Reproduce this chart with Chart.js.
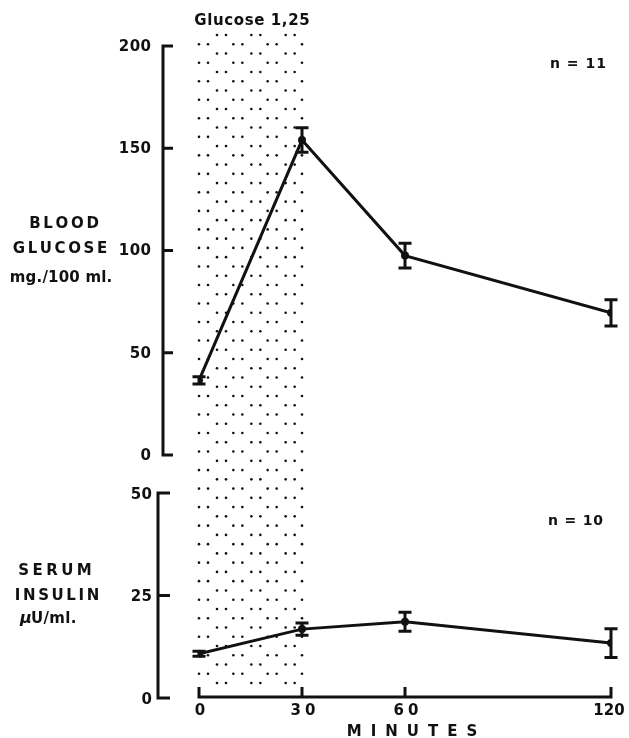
<!DOCTYPE html>
<html><head><meta charset="utf-8">
<script src="https://cdn.jsdelivr.net/npm/chart.js@4"></script>
<style>html,body{margin:0;padding:0;background:#fff;} #wrap{position:relative;width:629px;height:738px;} canvas{position:absolute;left:0;top:0;}</style>
</head><body><div id="wrap"><canvas id="c" width="629" height="738"></canvas></div>
<script>
const minutes = [0, 30, 60, 120];
const glucose = [36.5, 154, 97.5, 69.5];
const glucoseErr = [1.8, 6, 6, 6.4];
const insulin = [10.8, 16.8, 18.6, 13.4];
const insulinErr = [0.6, 1.5, 2.3, 3.5];
const glucoseTicks = [0, 50, 100, 150, 200];
const insulinTicks = [0, 25, 50];
const minuteTicks = [0, 30, 60, 120];
const shadeRange = [0, 30];

const FONT = '"DejaVu Sans", sans-serif';
const INK = '#111';

function spaced(ctx, text, x, y, sp, align) {
  const ws = [...text].map(ch => ctx.measureText(ch).width);
  const total = ws.reduce((a, b) => a + b, 0) + sp * (ws.length - 1);
  let cx = align === 'center' ? x - total / 2 : align === 'right' ? x - total : x;
  ctx.textAlign = 'left';
  [...text].forEach((ch, i) => { ctx.fillText(ch, cx, y); cx += ws[i] + sp; });
}

const decor = {
  id: 'decor',
  beforeDatasetsDraw(chart) {
    const ctx = chart.ctx, xs = chart.scales.x;
    const xa = xs.getPixelForValue(shadeRange[0]), xb = xs.getPixelForValue(shadeRange[1]);
    const period = (xb - xa) / 3;
    const top = 35, bottom = 683, rows = 70, step = (bottom - top) / rows;
    ctx.save();
    ctx.fillStyle = INK;
    for (let r = 0; r <= rows; r++) {
      const y = top + r * step;
      const xsList = [];
      if (r % 2 === 0) {
        for (let k = 0; k < 3; k++) { xsList.push(xa + 18 + k * period, xa + 27 + k * period); }
      } else {
        for (let k = 0; k < 3; k++) { xsList.push(xa + k * period, xa + 9 + k * period); }
        xsList.push(xb);
      }
      xsList.forEach(x => { ctx.beginPath(); ctx.arc(x, y, 1.3, 0, Math.PI * 2); ctx.fill(); });
    }
    ctx.restore();
  },
  afterDatasetsDraw(chart) {
    const ctx = chart.ctx, xs = chart.scales.x;
    ctx.save();
    ctx.strokeStyle = INK; ctx.lineWidth = 3; ctx.lineCap = 'butt';
    const sets = [[glucose, glucoseErr, chart.scales.yG], [insulin, insulinErr, chart.scales.yI]];
    sets.forEach(([vals, errs, ys]) => {
      vals.forEach((v, i) => {
        const x = xs.getPixelForValue(minutes[i]);
        const y1 = ys.getPixelForValue(v + errs[i]), y2 = ys.getPixelForValue(v - errs[i]);
        ctx.beginPath();
        ctx.moveTo(x, y1); ctx.lineTo(x, y2);
        ctx.moveTo(x - 6.5, y1); ctx.lineTo(x + 6.5, y1);
        ctx.moveTo(x - 6.5, y2); ctx.lineTo(x + 6.5, y2);
        ctx.stroke();
      });
    });
    ctx.restore();
  },
  afterDraw(chart) {
    const ctx = chart.ctx, xs = chart.scales.x, yG = chart.scales.yG, yI = chart.scales.yI;
    ctx.save();
    ctx.strokeStyle = INK; ctx.fillStyle = INK; ctx.lineWidth = 3; ctx.lineCap = 'butt';
    // glucose axis
    const gx = 163;
    ctx.beginPath();
    ctx.moveTo(gx, yG.getPixelForValue(200) - 1.5); ctx.lineTo(gx, yG.getPixelForValue(0) + 1.5);
    glucoseTicks.forEach(t => { const y = yG.getPixelForValue(t); ctx.moveTo(gx - 1.5, y); ctx.lineTo(gx + 10, y); });
    ctx.stroke();
    // insulin axis
    const ix = 158;
    ctx.beginPath();
    ctx.moveTo(ix, yI.getPixelForValue(50) - 1.5); ctx.lineTo(ix, yI.getPixelForValue(0) + 1.5);
    insulinTicks.forEach(t => { const y = yI.getPixelForValue(t); ctx.moveTo(ix - 1.5, y); ctx.lineTo(ix + 12, y); });
    ctx.stroke();
    // x axis
    const ay = 697;
    ctx.beginPath();
    ctx.moveTo(xs.getPixelForValue(0) - 1.5, ay); ctx.lineTo(xs.getPixelForValue(120) + 1.5, ay);
    minuteTicks.forEach(t => { const x = xs.getPixelForValue(t); ctx.moveTo(x, ay + 1.5); ctx.lineTo(x, ay - 10); });
    ctx.stroke();

    ctx.textBaseline = 'middle';
    ctx.font = 'bold 15px ' + FONT;
    glucoseTicks.forEach(t => spaced(ctx, String(t), 151, yG.getPixelForValue(t) + 1, 0.5, 'right'));
    insulinTicks.forEach(t => spaced(ctx, String(t), 152, yI.getPixelForValue(t) + 2, 0.5, 'right'));
    minuteTicks.forEach(t => {
      const s = String(t);
      spaced(ctx, s, xs.getPixelForValue(t) + (s.length > 2 ? -2 : 1), 711, s.length > 2 ? 0 : 4, 'center');
    });
    spaced(ctx, 'MINUTES', 412, 732, 9, 'center');

    spaced(ctx, 'BLOOD', 64, 224, 2.7, 'center');
    spaced(ctx, 'GLUCOSE', 60, 249, 2.6, 'center');
    spaced(ctx, 'mg./100 ml.', 61, 278, 0.2, 'center');
    spaced(ctx, 'SERUM', 55, 571, 3.4, 'center');
    spaced(ctx, 'INSULIN', 57, 596, 2.6, 'center');
    ctx.font = 'italic bold 16px ' + FONT;
    ctx.textAlign = 'left';
    ctx.fillText('\u03BC', 20, 619);
    ctx.font = 'bold 15px ' + FONT;
    spaced(ctx, 'U/ml.', 31, 619, 0.3, 'left');

    spaced(ctx, 'Glucose 1,25', 252, 21, 0.6, 'center');
    ctx.font = 'bold 14px ' + FONT;
    spaced(ctx, 'n = 11', 550, 64, 1.0, 'left');
    spaced(ctx, 'n = 10', 548, 521, 0.8, 'left');
    ctx.restore();
  }
};

new Chart(document.getElementById('c'), {
  type: 'line',
  data: {
    datasets: [
      { label: 'Blood glucose', data: minutes.map((m, i) => ({ x: m, y: glucose[i] })), yAxisID: 'yG',
        borderColor: INK, backgroundColor: INK, borderWidth: 3, pointRadius: 2.5, tension: 0 },
      { label: 'Serum insulin', data: minutes.map((m, i) => ({ x: m, y: insulin[i] })), yAxisID: 'yI',
        borderColor: INK, backgroundColor: INK, borderWidth: 3, pointRadius: 2.5, tension: 0 }
    ]
  },
  options: {
    responsive: false, animation: false, devicePixelRatio: 1,
    layout: { padding: { left: 199, right: 18, top: 46, bottom: 40 } },
    plugins: { legend: { display: false }, tooltip: { enabled: false } },
    scales: {
      x: { type: 'linear', min: 0, max: 120, display: false },
      yG: { type: 'linear', min: -118.83, max: 200, display: false },
      yI: { type: 'linear', min: 0, max: 159.02, display: false }
    }
  },
  plugins: [decor]
});
</script></body></html>
